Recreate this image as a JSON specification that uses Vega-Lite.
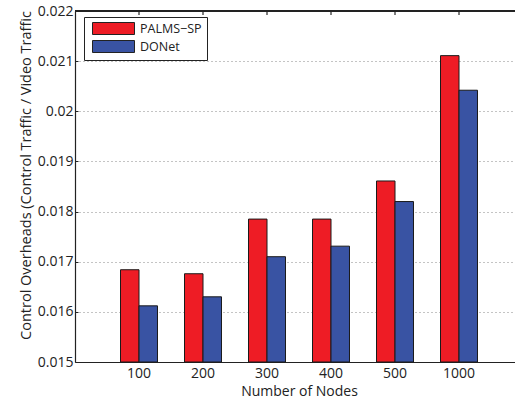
{
  "$schema": "https://vega.github.io/schema/vega-lite/v6.json",
  "width": 440,
  "height": 351,
  "autosize": {"type": "none"},
  "padding": {"left": 75, "top": 11, "right": 0, "bottom": 38},
  "background": "white",
  "view": {"stroke": null},
  "config": {
    "font": "Open Sans",
    "axis": {"labelFont": "Open Sans", "titleFont": "Open Sans", "labelColor": "#222", "titleColor": "#222", "domainColor": "#222", "tickColor": "#222", "titleFontWeight": "normal"}
  },
  "data": {
    "values": [
      {"nodes": "100", "series": "PALMS−SP", "value": 0.01684},
      {"nodes": "100", "series": "DONet", "value": 0.01612},
      {"nodes": "200", "series": "PALMS−SP", "value": 0.01676},
      {"nodes": "200", "series": "DONet", "value": 0.0163},
      {"nodes": "300", "series": "PALMS−SP", "value": 0.01785},
      {"nodes": "300", "series": "DONet", "value": 0.0171},
      {"nodes": "400", "series": "PALMS−SP", "value": 0.01785},
      {"nodes": "400", "series": "DONet", "value": 0.01731},
      {"nodes": "500", "series": "PALMS−SP", "value": 0.01861},
      {"nodes": "500", "series": "DONet", "value": 0.0182},
      {"nodes": "1000", "series": "PALMS−SP", "value": 0.02111},
      {"nodes": "1000", "series": "DONet", "value": 0.02042}
    ]
  },
  "layer": [
    {
      "mark": {"type": "bar", "stroke": "#1a1a1a", "strokeWidth": 1},
      "encoding": {
        "x": {
          "field": "nodes", "type": "nominal", "sort": ["100", "200", "300", "400", "500", "1000"],
          "scale": {"range": [0, 448], "paddingInner": 0, "paddingOuter": 0.5},
          "axis": {"orient": "bottom", "title": "Number of Nodes", "labelAngle": 0, "labelFontSize": 14, "titleFontSize": 14, "tickSize": -4, "labelPadding": 8, "titlePadding": 4, "domainWidth": 1.2}
        },
        "xOffset": {"field": "series", "type": "nominal", "sort": ["PALMS−SP", "DONet"], "scale": {"paddingOuter": 0.73, "paddingInner": 0}},
        "y": {
          "field": "value", "type": "quantitative",
          "scale": {"domain": [0.015, 0.022], "zero": false, "nice": false},
          "axis": {"title": "Control Overheads (Control Traffic / Video Traffic", "values": [0.015, 0.016, 0.017, 0.018, 0.019, 0.02, 0.021, 0.022], "format": "~g", "labelFontSize": 14, "titleFontSize": 14.5, "tickSize": -3, "labelPadding": 5, "grid": true, "gridColor": "#888", "gridDash": [1, 3], "gridWidth": 1, "titleX": -42, "titleY": 164, "domainWidth": 1.2}
        },
        "y2": {"datum": 0.015},
        "color": {
          "field": "series", "type": "nominal", "sort": ["PALMS−SP", "DONet"],
          "scale": {"domain": ["PALMS−SP", "DONet"], "range": ["#ee1c25", "#3953a3"]},
          "legend": {
            "title": null, "orient": "none", "legendX": 9, "legendY": 6,
            "direction": "vertical",
            "symbolType": "M-3.5,-1H3.5V1H-3.5Z", "symbolSize": 144,
            "symbolOffset": 18, "labelOffset": 20,
            "symbolStrokeColor": "#222", "symbolStrokeWidth": 1, "symbolOpacity": 1,
            "labelFontSize": 12.5, "labelFont": "Open Sans", "labelColor": "#222",
            "strokeColor": "#222", "fillColor": "white", "padding": 5, "rowPadding": 1
          }
        }
      }
    },
    {
      "mark": {"type": "rule", "color": "#222", "strokeWidth": 1.2},
      "encoding": {"y": {"datum": 0.022}}
    },
    {
      "mark": {"type": "tick", "color": "#222", "orient": "vertical", "size": 4, "thickness": 1, "yOffset": 2},
      "encoding": {
        "x": {"field": "nodes", "type": "nominal", "sort": ["100", "200", "300", "400", "500", "1000"]},
        "y": {"datum": 0.022}
      }
    }
  ]
}
